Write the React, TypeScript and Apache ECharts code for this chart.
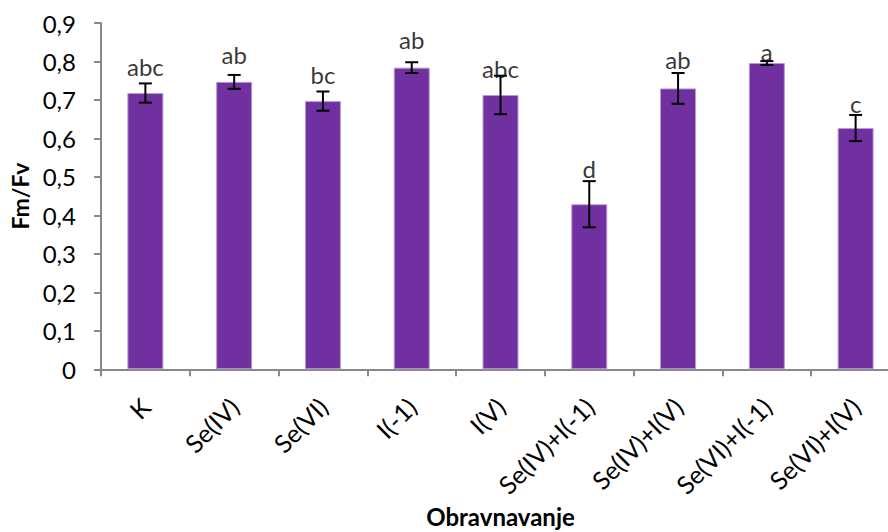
import React, { useEffect, useRef } from "react";
import * as echarts from "echarts";

const categories = ["K", "Se(IV)", "Se(VI)", "I(-1)", "I(V)", "Se(IV)+I(-1)", "Se(IV)+I(V)", "Se(VI)+I(-1)", "Se(VI)+I(V)"];
const means = [0.718, 0.747, 0.697, 0.784, 0.713, 0.429, 0.730, 0.796, 0.627];
const errors = [0.025, 0.018, 0.025, 0.014, 0.05, 0.06, 0.04, 0.005, 0.034];
const letters = ["abc", "ab", "bc", "ab", "abc", "d", "ab", "a", "c"];
const letterY = [0.788, 0.817, 0.767, 0.856, 0.783, 0.521, 0.804, 0.825, 0.692];

const FONT = "Lato, sans-serif";

export default function App() {
  const ref = useRef<HTMLDivElement>(null);
  useEffect(() => {
    document.body.style.margin = "0";
    const chart = echarts.init(ref.current!, null, { renderer: "svg" });
    const errData = means.map((m, i) => [i, m - errors[i], m + errors[i]]);
    chart.setOption({
      animation: false,
      grid: { left: 101, top: 23, width: 799, height: 346.3, containLabel: false, outerBoundsMode: "none" },
      xAxis: {
        type: "category",
        data: categories,
        name: "Obravnavanje",
        nameLocation: "middle",
        nameGap: 134,
        nameTextStyle: { fontFamily: FONT, fontSize: 24, fontWeight: "bold", color: "#000" },
        axisLine: { lineStyle: { color: "#888", width: 2 } },
        axisTick: { show: true, length: 7, lineStyle: { color: "#888", width: 2 } },
        axisLabel: {
          rotate: 45,
          margin: 33,
          fontFamily: FONT,
          fontSize: 25,
          color: "#000",
          interval: 0,
        },
      },
      yAxis: {
        type: "value",
        min: 0,
        max: 0.9,
        interval: 0.1,
        name: "Fm/Fv",
        nameLocation: "middle",
        nameRotate: 90,
        nameGap: 67,
        nameTextStyle: { fontFamily: FONT, fontSize: 23, fontWeight: "bold", color: "#000" },
        axisLine: { show: true, lineStyle: { color: "#888", width: 2 } },
        axisTick: { show: true, length: 7, lineStyle: { color: "#888", width: 2 } },
        splitLine: { show: false },
        axisLabel: {
          margin: 25,
          fontFamily: FONT,
          fontSize: 24,
          color: "#000",
          formatter: (v: number) => (Math.round(v * 10) / 10).toString().replace(".", ","),
        },
      },
      series: [
        {
          type: "bar",
          data: means,
          barWidth: 36,
          itemStyle: { color: "#7030A0", borderColor: "#b99bd6", borderWidth: 1 },
        },
        {
          type: "custom",
          data: errData,
          z: 5,
          renderItem: (params: any, api: any) => {
            const hi = api.coord([api.value(0), api.value(2)]);
            const lo = api.coord([api.value(0), api.value(1)]);
            const half = 6.5;
            const style = { stroke: "#000", lineWidth: 2 };
            return {
              type: "group",
              children: [
                { type: "line", shape: { x1: hi[0], y1: hi[1], x2: lo[0], y2: lo[1] }, style },
                { type: "line", shape: { x1: hi[0] - half, y1: hi[1], x2: hi[0] + half, y2: hi[1] }, style },
                { type: "line", shape: { x1: lo[0] - half, y1: lo[1], x2: lo[0] + half, y2: lo[1] }, style },
              ],
            };
          },
        },
        {
          type: "scatter",
          data: letterY.map((y, i) => [i, y]),
          symbolSize: 1,
          itemStyle: { color: "rgba(0,0,0,0)" },
          z: 6,
          label: {
            show: true,
            position: "inside",
            formatter: (p: any) => letters[p.dataIndex],
            fontFamily: FONT,
            fontSize: 24,
            color: "#000",
          },
        },
      ],
    });
    return () => chart.dispose();
  }, []);
  return <div ref={ref} style={{ width: 888, height: 532 }} />;
}
